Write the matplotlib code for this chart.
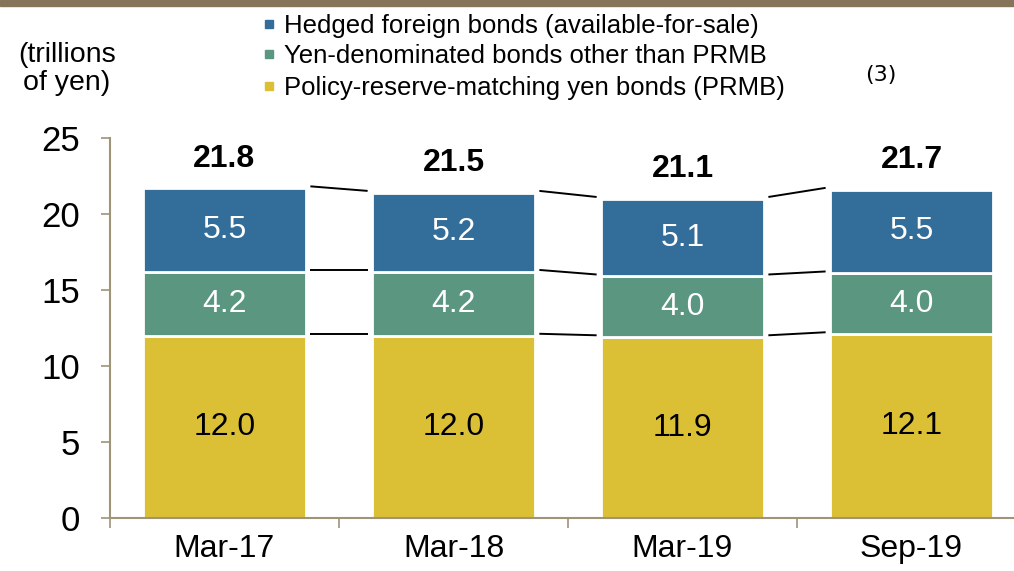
import matplotlib
matplotlib.use("Agg")
import matplotlib.pyplot as plt
from matplotlib.patches import Rectangle
import numpy as np

plt.rcParams['font.family'] = ['Liberation Sans', 'DejaVu Sans']

# data
categories = ["Mar-17", "Mar-18", "Mar-19", "Sep-19"]
prmb = [12.0, 12.0, 11.9, 12.1]
yen_other = [4.2, 4.2, 4.0, 4.0]
hedged = [5.5, 5.2, 5.1, 5.5]
totals = [21.8, 21.5, 21.1, 21.7]
series_names = ["Hedged foreign bonds (available-for-sale)",
                "Yen-denominated bonds other than PRMB",
                "Policy-reserve-matching yen bonds (PRMB)"]

c_blue = '#336d99'
c_green = '#5b9681'
c_yellow = '#dbbf35'
c_spine = '#a09478'

W, H = 1014, 571
fig = plt.figure(figsize=(W / 100, H / 100), dpi=100)

# brown band at top
fig.patches.append(Rectangle((0, 1 - 6 / H), 1, 6 / H, transform=fig.transFigure,
                             color='#85735a', zorder=0))

ax = fig.add_axes([110 / W, 1 - 518 / H, (1026 - 110) / W, (518 - 138) / H])

x = np.arange(len(categories))
bw = 0.71
bottom2 = np.array(prmb)
bottom3 = bottom2 + np.array(yen_other)
ax.bar(x, prmb, bw, color=c_yellow, edgecolor='white', linewidth=2)
ax.bar(x, yen_other, bw, bottom=bottom2, color=c_green, edgecolor='white', linewidth=2)
ax.bar(x, hedged, bw, bottom=bottom3, color=c_blue, edgecolor='white', linewidth=2)
tops = bottom3 + np.array(hedged)

# connector lines between bars
for levels in (bottom2, bottom3, tops):
    for i in range(len(x) - 1):
        ax.plot([x[i] + bw / 2 + 0.02, x[i + 1] - bw / 2 - 0.02],
                [levels[i] + 0.12, levels[i + 1] + 0.12],
                color='black', lw=1.4, solid_capstyle='butt')

# labels
for i in range(len(x)):
    ax.text(x[i], prmb[i] / 2, f"{prmb[i]:.1f}", ha='center', va='center',
            fontsize=23, color='black')
    ax.text(x[i], bottom2[i] + yen_other[i] / 2, f"{yen_other[i]:.1f}", ha='center',
            va='center', fontsize=23, color='white')
    ax.text(x[i], bottom3[i] + hedged[i] / 2, f"{hedged[i]:.1f}", ha='center',
            va='center', fontsize=23, color='white')
    ax.text(x[i], tops[i] + 1.95, f"{totals[i]:.1f}", ha='center', va='center',
            fontsize=23, fontweight='bold', color='black')

ax.set_xlim(-0.5, 3.5)
ax.set_ylim(0, 25)
ax.set_yticks(np.arange(0, 26, 5))
ax.tick_params(axis='y', labelsize=25, length=6.5, width=1.2, color=c_spine, pad=15)
ax.set_xticks(x)
ax.set_xticklabels(categories)
ax.set_xticks(np.arange(-0.5, 4, 1), minor=True)
ax.tick_params(axis='x', which='major', length=0, labelsize=23, pad=11.5)
ax.tick_params(axis='x', which='minor', length=7, width=1.2, color=c_spine)
for s in ('top', 'right'):
    ax.spines[s].set_visible(False)
for s in ('left', 'bottom'):
    ax.spines[s].set_color(c_spine)
    ax.spines[s].set_linewidth(1.5)

# legend drawn by hand
legend_y = [33, 63, 95]
for name, col, yb in zip(series_names, (c_blue, c_green, c_yellow), legend_y):
    fig.patches.append(Rectangle((265 / W, 1 - (yb - 5) / H), 8 / W, 8 / H,
                                 transform=fig.transFigure, color=col))
    fig.text(284 / W, 1 - yb / H, name, ha='left', va='baseline', fontsize=18.5)

fig.text(67 / W, 1 - 69 / H, "(trillions\nof yen)", ha='center', va='center',
         fontsize=20.5, linespacing=1.1)
fig.text(881 / W, 1 - 75 / H, "(3)", ha='center', va='center', fontsize=16,
         family='DejaVu Sans')

fig.savefig("out.png", dpi=100)
